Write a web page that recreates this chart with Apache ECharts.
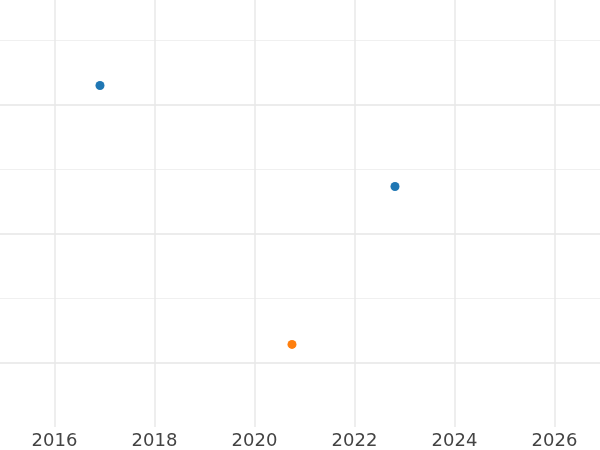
<!DOCTYPE html>
<html>
<head>
<meta charset="utf-8">
<script src="https://cdn.jsdelivr.net/npm/echarts@6/dist/echarts.min.js"></script>
<style>html,body{margin:0;padding:0;background:#fff;}#c{width:600px;height:450px;}</style>
</head>
<body>
<div id="c"></div>
<script>
const xTicks = [2016, 2018, 2020, 2022, 2024, 2026];
const yMajor = [1, 2, 3];
const yMinor = [1.5, 2.5, 3.5];
const blueSeries = [[2016.91, 3.147], [2022.81, 2.364]];
const orangeSeries = [[2020.75, 1.14]];

const chart = echarts.init(document.getElementById('c'), null, {renderer: 'canvas'});
chart.setOption({
  animation: false,
  backgroundColor: '#ffffff',
  grid: {left: 0, right: 0, top: 0, bottom: 23, containLabel: false},
  xAxis: {
    type: 'value', min: 2014.91, max: 2026.91,
    axisLine: {show: false},
    axisTick: {show: false, customValues: xTicks},
    axisLabel: {customValues: xTicks, color: '#444444', fontSize: 18, fontFamily: 'DejaVu Sans', margin: 5,
      formatter: v => String(v)},
    splitLine: {show: true, lineStyle: {color: '#e8e8e8', width: 1.5}}
  },
  yAxis: [{
    type: 'value', min: 0.5, max: 3.81,
    axisLine: {show: false}, axisLabel: {show: false},
    axisTick: {show: false, customValues: yMajor},
    splitLine: {show: true, lineStyle: {color: '#e6e6e6', width: 1.5}}
  }, {
    type: 'value', min: 0.5, max: 3.81,
    axisLine: {show: false}, axisLabel: {show: false},
    axisTick: {show: false, customValues: yMinor},
    splitLine: {show: true, lineStyle: {color: '#f0f0f0', width: 1}}
  }],
  series: [{
    type: 'scatter', yAxisIndex: 0, data: blueSeries, symbolSize: 9,
    itemStyle: {color: '#1f77b4', opacity: 1}
  }, {
    type: 'scatter', yAxisIndex: 0, data: orangeSeries, symbolSize: 9,
    itemStyle: {color: '#ff7f0e', opacity: 1}
  }]
});
</script>
</body>
</html>
